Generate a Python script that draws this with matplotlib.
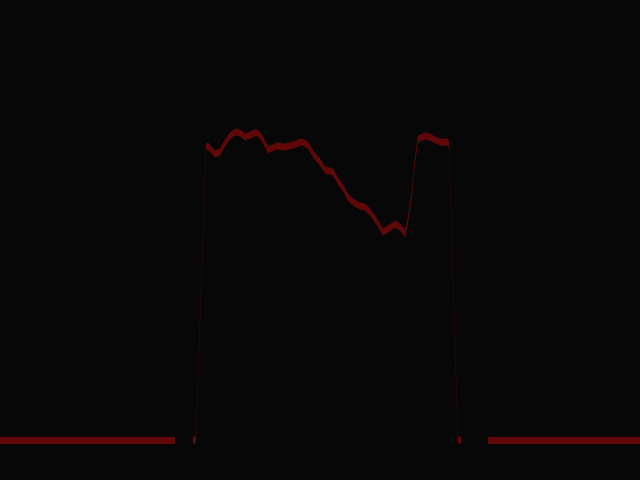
import numpy as np
import matplotlib
matplotlib.use("Agg")
import matplotlib.pyplot as plt

# Sample positions (x) and signal values (height above baseline)
x_vals = [0, 175, 176, 193, 196, 206, 208, 215, 220, 225, 230, 235, 240, 245, 250,
          255, 258, 262, 268, 270, 277, 285, 293, 302, 308, 313, 320, 325, 330,
          333, 338, 345, 347, 353, 360, 365, 370, 377, 383, 388, 395, 400, 405,
          408, 412, 414, 416, 418, 425, 430, 435, 440, 447, 449, 458, 461, 462,
          488, 640]
y_vals = [0, 0, np.nan, 0, 0, 293, 294, 286, 288, 297, 304, 308, 307, 303, 305,
          307, 307, 302, 290, 291, 294, 293, 295, 298, 295, 286, 278, 270, 269,
          268, 259, 249, 244, 238, 234, 233, 228, 218, 208, 211, 216, 213, 206,
          220, 247, 270, 287, 301, 304, 303, 300, 298, 298, 295, 0, 0, np.nan,
          0, 0]

x = np.array(x_vals, dtype=float)
y = np.array(y_vals, dtype=float)

fig = plt.figure(figsize=(6.4, 4.8), dpi=100, facecolor="#070707")
ax = fig.add_axes([0, 0, 1, 1])
ax.set_facecolor("#070707")
ax.set_xlim(0, 640)
ax.set_ylim(-40, 440)
ax.axis("off")

half = 3.5  # half band thickness (data units == pixels here)
ym = np.ma.masked_invalid(y)
ax.fill_between(x, ym - half, ym + half, color="#600808", linewidth=0)

fig.savefig("out.png", dpi=100, facecolor=fig.get_facecolor())
